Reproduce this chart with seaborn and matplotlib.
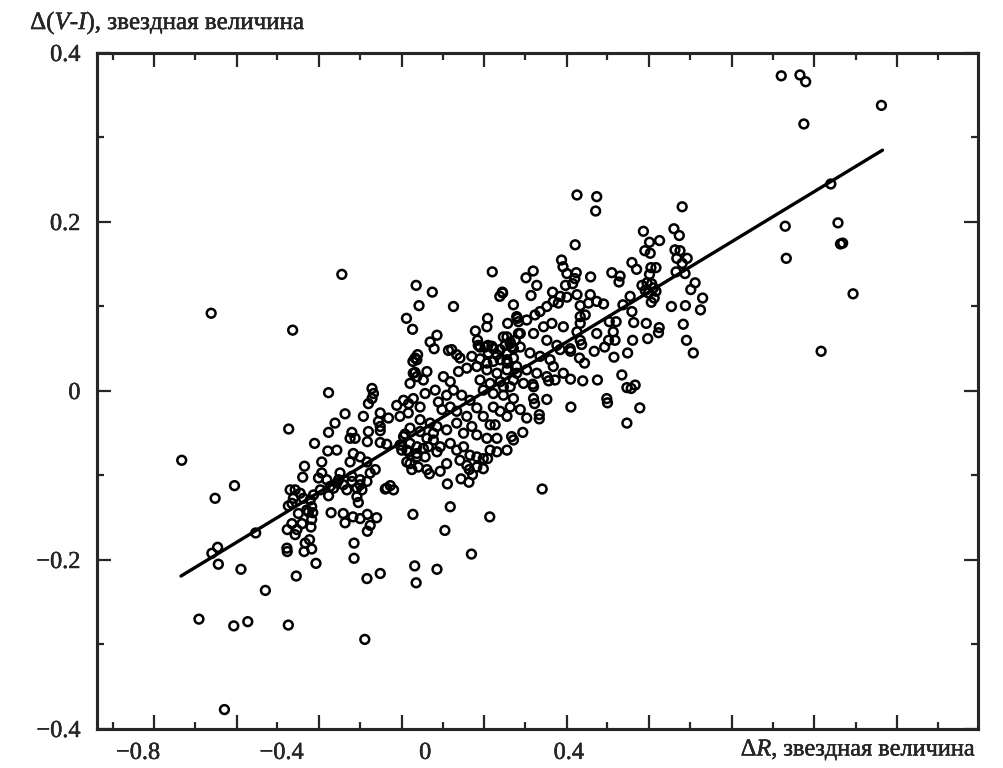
import matplotlib
matplotlib.use("Agg")
import matplotlib.pyplot as plt
import matplotlib.patheffects as pe
import seaborn as sns
import pandas as pd

upper_right = [(0.992, 0.373), (1.044, 0.374), (1.060, 0.366), (1.271, 0.338), (1.055, 0.316),
               (1.130, 0.245), (1.003, 0.195), (1.150, 0.199), (1.157, 0.174), (1.163, 0.175),
               (1.006, 0.157), (1.192, 0.115), (1.103, 0.047)]

right_group = [(0.716, 0.218), (0.608, 0.189), (0.693, 0.192), (0.708, 0.184), (0.625, 0.176),
               (0.653, 0.178), (0.612, 0.166), (0.627, 0.163), (0.696, 0.167), (0.710, 0.166),
               (0.701, 0.157), (0.730, 0.157), (0.716, 0.151), (0.629, 0.146), (0.643, 0.146),
               (0.699, 0.141), (0.724, 0.139), (0.625, 0.138), (0.604, 0.125), (0.618, 0.128),
               (0.631, 0.127), (0.613, 0.119), (0.636, 0.122), (0.643, 0.118), (0.622, 0.116),
               (0.752, 0.128), (0.740, 0.120), (0.773, 0.110), (0.630, 0.105), (0.638, 0.110),
               (0.686, 0.100), (0.725, 0.101), (0.767, 0.096), (0.616, 0.080), (0.719, 0.079),
               (0.652, 0.075), (0.650, 0.069), (0.620, 0.062), (0.728, 0.060), (0.747, 0.045)]

mid_right = [(0.423, 0.232), (0.478, 0.230), (0.475, 0.213), (0.418, 0.173), (0.380, 0.155),
             (0.384, 0.147), (0.301, 0.142), (0.281, 0.134), (0.311, 0.125), (0.295, 0.113),
             (0.216, 0.116), (0.246, 0.102), (0.395, 0.139), (0.421, 0.140), (0.417, 0.133),
             (0.411, 0.127), (0.391, 0.125), (0.461, 0.135), (0.520, 0.140), (0.543, 0.136),
             (0.540, 0.129), (0.576, 0.152), (0.589, 0.144), (0.355, 0.117), (0.376, 0.112),
             (0.395, 0.111), (0.423, 0.114), (0.460, 0.114), (0.478, 0.106), (0.497, 0.103),
             (0.455, 0.104), (0.432, 0.101), (0.571, 0.112), (0.551, 0.102), (0.576, 0.094),
             (0.581, 0.081), (0.578, 0.060), (0.513, 0.082), (0.532, 0.082), (0.478, 0.068),
             (0.524, 0.070), (0.529, 0.060), (0.511, 0.060), (0.500, 0.052), (0.471, 0.047),
             (0.432, 0.088), (0.446, 0.090), (0.432, 0.080), (0.423, 0.070), (0.432, 0.060),
             (0.436, 0.055), (0.430, 0.039), (0.405, 0.047), (0.444, 0.033), (0.564, 0.045),
             (0.526, 0.040), (0.548, 0.019), (0.562, 0.004), (0.585, 0.007), (0.574, 0.003),
             (0.405, 0.014), (0.439, 0.012), (0.480, 0.013), (0.362, 0.013), (0.344, 0.012),
             (0.302, -0.009), (0.339, -0.010), (0.506, -0.009), (0.230, 0.080), (0.255, 0.088),
             (0.283, 0.084), (0.306, 0.090), (0.320, 0.094), (0.339, 0.100), (0.357, 0.106),
             (0.371, 0.104), (0.218, 0.064), (0.237, 0.058), (0.265, 0.068), (0.302, 0.068),
             (0.330, 0.076), (0.353, 0.080), (0.385, 0.076), (0.339, 0.060), (0.367, 0.054),
             (0.265, 0.052), (0.292, 0.045), (0.320, 0.041), (0.348, 0.037), (0.376, 0.049),
             (0.404, 0.050), (0.228, 0.037), (0.255, 0.029), (0.283, 0.025), (0.311, 0.021),
             (0.339, 0.017), (0.246, 0.013), (0.274, 0.009), (0.302, 0.005), (0.218, 0.005),
             (0.357, 0.029), (0.385, 0.021)]

core_top = [(0.187, 0.141), (-0.025, 0.125), (0.020, 0.117), (-0.017, 0.101), (0.079, 0.100),
            (-0.052, 0.086), (-0.035, 0.073), (0.215, 0.117), (0.208, 0.112), (0.174, 0.086),
            (0.172, 0.076), (0.257, 0.086), (0.260, 0.082), (0.033, 0.066), (0.014, 0.058),
            (0.025, 0.050), (0.140, 0.071), (0.146, 0.060), (0.153, 0.052), (0.175, 0.054),
            (0.190, 0.050), (0.176, 0.045), (0.065, 0.048), (0.074, 0.049), (0.088, 0.043),
            (0.130, 0.041), (0.153, 0.038), (-0.021, 0.043), (-0.028, 0.039), (0.228, 0.064),
            (0.237, 0.056), (0.251, 0.060), (0.260, 0.068), (0.209, 0.049), (0.228, 0.045),
            (0.246, 0.050), (0.200, 0.043)]

core = [(0.097, 0.039), (-0.023, 0.037), (-0.034, 0.035), (0.148, 0.054), (0.167, 0.052),
        (0.186, 0.053), (0.223, 0.054), (0.241, 0.052), (0.172, 0.033), (0.190, 0.035),
        (0.209, 0.037), (0.228, 0.033), (0.246, 0.039), (-0.033, 0.021), (-0.042, 0.009),
        (-0.023, 0.017), (-0.005, 0.013), (0.005, 0.023), (0.051, 0.017), (0.070, 0.011),
        (0.093, 0.023), (0.116, 0.027), (0.144, 0.029), (0.172, 0.025), (0.200, 0.021),
        (0.228, 0.025), (0.255, 0.021), (0.153, 0.013), (0.181, 0.009), (0.209, 0.011),
        (0.237, 0.005), (0.162, 0.001), (0.190, -0.003), (0.218, -0.005), (0.246, -0.009),
        (0.000, -0.003), (0.028, 0.001), (0.037, -0.013), (0.060, -0.005), (0.079, 0.001),
        (0.102, -0.005), (0.125, -0.011), (-0.060, -0.011), (-0.033, -0.009), (-0.014, -0.019),
        (-0.047, -0.026), (-0.070, -0.030), (0.047, -0.022), (0.070, -0.019), (0.088, -0.024),
        (0.116, -0.030), (0.144, -0.020), (0.162, -0.030), (0.190, -0.019), (0.209, -0.024),
        (0.237, -0.019), (0.228, -0.030), (-0.014, -0.034), (0.014, -0.038), (0.033, -0.042),
        (0.060, -0.046), (0.088, -0.038), (0.107, -0.050), (0.130, -0.042), (-0.014, -0.048),
        (-0.042, -0.044), (0.181, -0.040), (0.195, -0.040), (0.144, -0.052), (0.172, -0.056),
        (0.200, -0.056), (0.241, -0.054), (0.246, -0.058), (0.228, -0.070), (0.181, -0.070),
        (0.200, -0.072), (-0.060, -0.054), (-0.042, -0.062), (-0.023, -0.066), (0.005, -0.056),
        (0.023, -0.058), (-0.051, -0.070), (-0.023, -0.074), (-0.005, -0.068), (0.042, -0.066),
        (0.070, -0.062), (0.088, -0.070), (0.107, -0.066), (0.125, -0.076), (0.144, -0.078),
        (0.162, -0.080), (0.097, -0.082), (0.116, -0.088), (0.144, -0.090), (0.162, -0.092),
        (0.060, -0.086), (0.042, -0.095), (-0.042, -0.086), (-0.019, -0.090), (0.005, -0.093),
        (0.174, -0.080), (0.009, -0.066), (0.000, -0.078), (0.033, -0.072), (0.023, -0.050)]

lower_mid = [(0.300, 0.008), (0.305, -0.015), (0.406, -0.019), (0.508, -0.014), (0.598, -0.020),
             (0.562, -0.038), (0.318, -0.028), (0.318, -0.033), (0.265, -0.022), (0.283, -0.032),
             (0.272, -0.049), (0.326, -0.116), (0.180, -0.149), (0.070, -0.137), (0.055, -0.165),
             (0.129, -0.193), (0.062, -0.110), (0.012, -0.098), (0.100, -0.104), (0.122, -0.108),
             (0.132, -0.099), (0.123, -0.093)]

lower_left = [(-0.034, -0.146), (-0.029, -0.207), (0.033, -0.211), (-0.025, -0.227), (-0.162, -0.222),
              (-0.125, -0.216), (-0.198, -0.180), (-0.198, -0.198), (-0.304, -0.204), (-0.359, -0.219),
              (-0.381, -0.277), (-0.168, -0.294), (-0.385, -0.186), (-0.384, -0.190), (-0.337, -0.190),
              (-0.316, -0.187), (-0.334, -0.180), (-0.322, -0.176), (-0.362, -0.170), (-0.384, -0.164),
              (-0.357, -0.164), (-0.371, -0.157), (-0.343, -0.157), (-0.318, -0.161), (-0.316, -0.152),
              (-0.353, -0.145), (-0.325, -0.143), (-0.313, -0.144), (-0.262, -0.144), (-0.228, -0.145),
              (-0.223, -0.156), (-0.201, -0.149), (-0.181, -0.151), (-0.161, -0.146), (-0.135, -0.150),
              (-0.153, -0.159), (-0.161, -0.166), (-0.269, -0.124), (-0.218, -0.117), (-0.190, -0.125),
              (-0.186, -0.132), (-0.176, -0.117), (-0.111, -0.116), (-0.088, -0.117), (-0.097, -0.112),
              (-0.376, -0.117), (-0.362, -0.117), (-0.348, -0.121), (-0.367, -0.127), (-0.339, -0.127),
              (-0.320, -0.129), (-0.311, -0.123), (-0.381, -0.136), (-0.330, -0.141), (-0.316, -0.137),
              (-0.371, -0.133), (-0.292, -0.117), (-0.265, -0.113), (-0.246, -0.109), (-0.228, -0.111),
              (-0.204, -0.107), (-0.181, -0.111), (-0.162, -0.107)]

far_left = [(-0.678, -0.082), (-0.380, -0.045), (-0.531, -0.112), (-0.585, -0.127), (-0.472, -0.168),
            (-0.578, -0.185), (-0.594, -0.192), (-0.576, -0.205), (-0.513, -0.211), (-0.445, -0.236),
            (-0.630, -0.270), (-0.533, -0.278), (-0.494, -0.273), (-0.559, -0.377), (-0.596, 0.092)]

left_mid = [(-0.232, 0.138), (-0.369, 0.072), (-0.269, -0.002), (-0.028, 0.022), (-0.148, 0.003),
            (-0.144, -0.003), (-0.148, -0.009), (-0.158, -0.015), (-0.223, -0.027), (-0.172, -0.030),
            (-0.125, -0.026), (-0.102, -0.032), (-0.079, -0.017), (-0.046, -0.015), (-0.251, -0.038),
            (-0.269, -0.049), (-0.308, -0.062), (-0.271, -0.071), (-0.204, -0.049), (-0.209, -0.056),
            (-0.195, -0.056), (-0.158, -0.048), (-0.161, -0.060), (-0.130, -0.036), (-0.125, -0.042),
            (-0.125, -0.047), (-0.125, -0.061), (-0.107, -0.063), (-0.056, -0.051), (-0.070, -0.064),
            (-0.065, -0.070), (-0.046, -0.072), (-0.051, -0.084), (-0.023, -0.078), (-0.037, -0.093),
            (-0.200, -0.074), (-0.181, -0.078), (-0.209, -0.084), (-0.162, -0.084), (-0.139, -0.093),
            (-0.153, -0.097), (-0.181, -0.105), (-0.204, -0.101), (-0.237, -0.097), (-0.241, -0.105),
            (-0.274, -0.105), (-0.288, -0.097), (-0.288, -0.084), (-0.336, -0.089), (-0.341, -0.102),
            (-0.297, -0.103), (-0.246, -0.070), (-0.190, -0.115), (-0.255, -0.115), (-0.107, -0.115)]

# линия регрессии (концы)
fit_x = [-0.680, 1.274]
fit_y = [-0.219, 0.285]

regions = [upper_right, right_group, mid_right, core_top, core, lower_mid, lower_left, far_left, left_mid]
pts = [p for r in regions for p in r]
df = pd.DataFrame(pts, columns=["dR", "dVI"])

sns.set_style("white")
plt.rcParams["font.family"] = ["Liberation Serif", "DejaVu Serif"]
plt.rcParams["mathtext.fontset"] = "custom"
plt.rcParams["mathtext.rm"] = "Liberation Serif"
plt.rcParams["mathtext.it"] = "Liberation Serif:italic"

fig = plt.figure(figsize=(10.04, 7.68), dpi=100)
ax = fig.add_axes([0.0966, 0.0508, 0.8775, 0.8802])

sns.scatterplot(data=df, x="dR", y="dVI", marker="o", s=40, facecolors="none",
                edgecolor="black", linewidth=1.8, ax=ax, zorder=3)
sns.lineplot(x=fit_x, y=fit_y, color="black", linewidth=2.4, ax=ax, zorder=4)

ax.set_xlim(-0.914, 1.540)
ax.set_ylim(-0.4, 0.4)
ax.set_xlabel("")
ax.set_ylabel("")

for s in ax.spines.values():
    s.set_linewidth(2.2)
    s.set_color("black")

# чуть жирнее, как в скане
bold = [pe.withStroke(linewidth=0.3, foreground="black")]

# подписи по x без черточек
ax.set_xticks([-0.8, -0.4, 0, 0.4])
ax.set_xticklabels(["\u22120.8", "\u22120.4", "0", "0.4"])
ax.tick_params(axis="x", which="major", length=0, pad=10, labelsize=17.5)

ax.set_yticks([-0.4, -0.2, 0, 0.2, 0.4])
ax.set_yticklabels(["\u22120.4", "\u22120.2", "0", "0.2", "0.4"])
ax.set_yticks([-0.3, -0.1, 0.1, 0.3], minor=True)
ax.tick_params(axis="y", which="both", direction="in", left=True, right=True,
               width=1.6, labelsize=17.5, pad=12)
ax.tick_params(axis="y", which="major", length=10)
ax.tick_params(axis="y", which="minor", length=5)
for lab in ax.get_xticklabels() + ax.get_yticklabels():
    lab.set_path_effects(bold)

# черточки по x (на рисунке они не совпадают с подписями)
tick_long = [-0.755, -0.525, -0.295, -0.065, 0.164, 0.394, 0.623, 0.854, 1.084, 1.315]
tick_short = [-0.870, -0.641, -0.412, -0.181, 0.050, 0.279, 0.507, 0.738, 0.969, 1.200, 1.429]
tw = ax.twiny()
tw.set_xlim(ax.get_xlim())
tw.set_xticks(tick_long)
tw.set_xticks(tick_short, minor=True)
tw.tick_params(axis="x", which="both", direction="in", top=True, bottom=True,
               labeltop=False, labelbottom=False, width=1.6)
tw.tick_params(axis="x", which="major", length=10)
tw.tick_params(axis="x", which="minor", length=5)
for s in tw.spines.values():
    s.set_linewidth(2.2)

fig.text(0.030, 0.962, "\u0394($\\mathit{V}$-$\\mathit{I}$), звездная величина",
         fontsize=18, ha="left", va="baseline", path_effects=bold)
fig.text(0.972, 0.016, "\u0394$\\mathit{R}$, звездная величина",
         fontsize=17.5, ha="right", va="baseline", path_effects=bold)

fig.savefig("out.png", dpi=100)
